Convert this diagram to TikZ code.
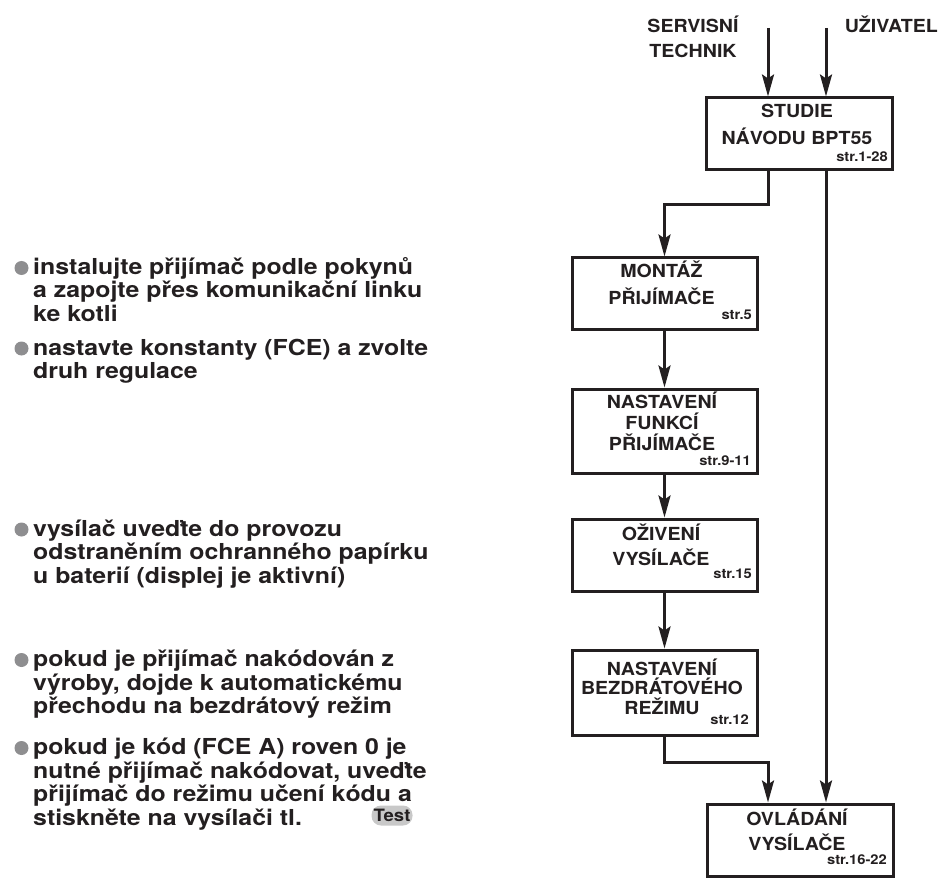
\documentclass[tikz,border=0pt]{standalone}
\usepackage{fontspec}
\setmainfont{TeX Gyre Heros}
\newfontfamily\leftfont{TeX Gyre Heros}[FakeStretch=1.13]
\newfontfamily\boxfont{TeX Gyre Heros}[FakeStretch=1.09]
\usetikzlibrary{arrows.meta}
\definecolor{bulletgrey}{HTML}{8E8E90}
\definecolor{pillgrey}{HTML}{C8C8C8}
\definecolor{ink}{HTML}{231F20}
\tikzset{
  stepbox/.style={draw=ink, line width=3pt, inner sep=0pt, minimum width=185pt},
  arr/.style={draw=ink, line width=3pt, -{Stealth[length=22pt,width=12pt,inset=4pt]}},
  ttl/.style={font=\boxfont\bfseries\fontsize{18}{#1}\selectfont, anchor=base, inner sep=0pt, text=ink},
  strl/.style={font=\boxfont\bfseries\fontsize{13.5}{15}\selectfont, anchor=base east, inner sep=0pt, text=ink},
  lt/.style={font=\leftfont\bfseries\fontsize{22}{23.5}\selectfont, anchor=base west, inner sep=0pt, text=ink},
  dot/.style={circle, fill=bulletgrey, inner sep=0pt, minimum size=14pt},
  pill/.style={rounded corners=9.5pt, fill=pillgrey, inner sep=0pt, minimum width=41pt, minimum height=20pt,
               font=\boxfont\bfseries\fontsize{17}{17}\selectfont, text=ink}
}
\begin{document}
\begin{tikzpicture}[x=1pt,y=-1pt]
\useasboundingbox (0,0) rectangle (940,896);

% top labels
\node[ttl=25] (servis) at (693,33) {\parbox[t]{120pt}{\centering SERVISNÍ\\TECHNIK}};
\node[font=\boxfont\bfseries\fontsize{18}{20}\selectfont, anchor=base east, inner sep=0pt, text=ink] (uziv) at (938,33) {UŽIVATEL};

% boxes
\node[stepbox, minimum width=186pt, minimum height=72pt] (s1) at (799,134) {};
\node[stepbox, minimum height=71pt] (s2) at (664.5,293.5) {};
\node[stepbox, minimum height=84pt] (s3) at (664.5,431) {};
\node[stepbox, minimum height=72pt] (s4) at (664.5,555) {};
\node[stepbox, minimum height=85pt] (s5) at (664.5,692.5) {};
\node[stepbox, minimum width=186pt, minimum height=72pt] (s6) at (800,840) {};

% box texts
\node[ttl=27] (t1) at (797,117.5) {\parbox[t]{200pt}{\centering STUDIE\\NÁVODU BPT55}};
\node[strl] (p1) at (888,162) {str.1-28};
\node[ttl=27] (t2) at (661.5,277.5) {\parbox[t]{200pt}{\centering MONTÁŽ\\PŘIJÍMAČE}};
\node[strl] (p2) at (752,319) {str.5};
\node[ttl=21] (t3) at (662,408.5) {\parbox[t]{200pt}{\centering NASTAVENÍ\\FUNKCÍ\\PŘIJÍMAČE}};
\node[strl] (p3) at (751,465) {str.9-11};
\node[ttl=25] (t4) at (661,540) {\parbox[t]{200pt}{\centering OŽIVENÍ\\VYSÍLAČE}};
\node[strl] (p4) at (752,578) {str.15};
\node[ttl=19.5] (t5) at (662,675) {\parbox[t]{200pt}{\centering NASTAVENÍ\\BEZDRÁTOVÉHO\\REŽIMU}};
\node[strl] (p5) at (749,724) {str.12};
\node[ttl=25.5] (t6) at (797,825) {\parbox[t]{200pt}{\centering OVLÁDÁNÍ\\VYSÍLAČE}};
\node[strl] (p6) at (887,864.5) {str.16-22};

% connectors
\coordinate (c1) at (768,28);
\coordinate (c2) at (826,28);
\coordinate (j1) at (768,205);
\coordinate (j2) at (768,762);
\draw[arr] (c1) -- (c1 |- s1.north);
\draw[arr] (c2) -- (c2 |- s1.north);
\draw[arr] (j1 |- s1.south) -- (j1) -| (s2.north);
\draw[arr] (s2.south) -- (s3.north);
\draw[arr] (s3.south) -- (s4.north);
\draw[arr] (s4.south) -- (s5.north);
\draw[arr] (s5.south) |- (j2) -- (j2 |- s6.north);
\draw[arr] (c2 |- s1.south) -- (c2 |- s6.north);

% left bullets
\node[dot] (d1) at (21.5,268) {};
\node[lt] (b1) at (33,274.5) {\parbox[t]{440pt}{\raggedright instalujte přijímač podle pokynů\\a zapojte přes komunikační linku\\ke kotli}};
\node[dot] (d2) at (21.5,348.5) {};
\node[lt] (b2) at (33,355) {\parbox[t]{440pt}{\raggedright nastavte konstanty (FCE) a zvolte\\druh regulace}};
\node[dot] (d3) at (21.5,529.5) {};
\node[lt] (b3) at (33,536) {\parbox[t]{440pt}{\raggedright vysílač uveďte do provozu\\odstraněním ochranného papírku\\u baterií (displej je aktivní)}};
\node[dot] (d4) at (21.5,660) {};
\node[lt] (b4) at (33,666.5) {\parbox[t]{440pt}{\raggedright pokud je přijímač nakódován z\\výroby, dojde k automatickému\\přechodu na bezdrátový režim}};
\node[dot] (d5) at (21.5,748) {};
\node[lt] (b5) at (33,754.5) {\parbox[t]{440pt}{\raggedright pokud je kód (FCE A) roven 0 je\\nutné přijímač nakódovat, uveďte\\přijímač do režimu učení kódu a\\stiskněte na vysílači tl.}};
\node[pill] (test) at (392,815.5) {Test};
\end{tikzpicture}
\end{document}
